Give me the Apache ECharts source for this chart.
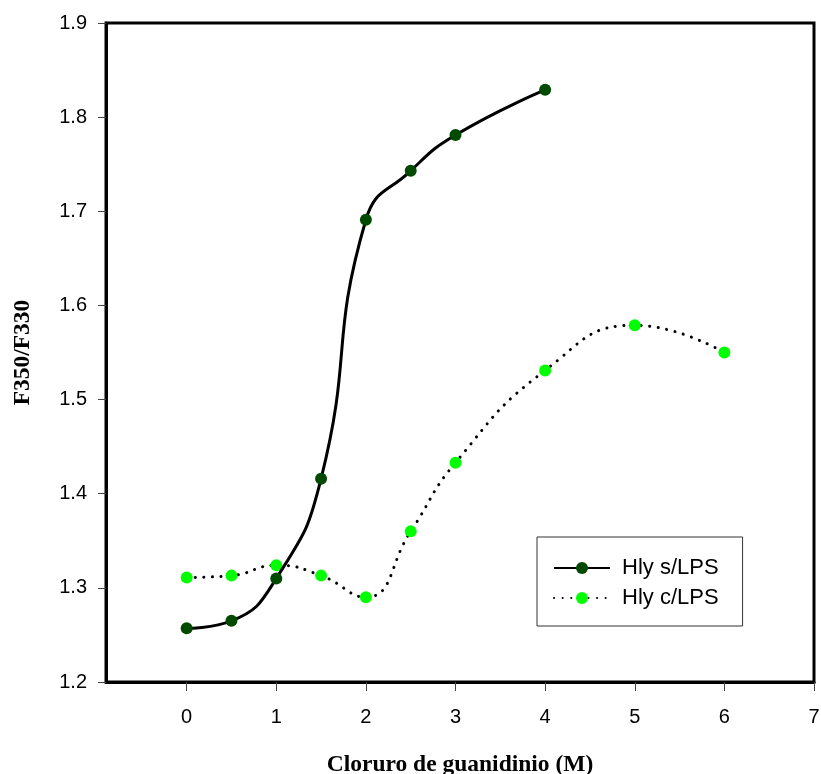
<!DOCTYPE html>
<html>
<head>
<meta charset="utf-8">
<script src="https://cdn.jsdelivr.net/npm/echarts@6/dist/echarts.min.js"></script>
<style>
  html, body { margin: 0; padding: 0; background: #fff; }
  #chart { width: 821px; height: 774px; }
</style>
</head>
<body>
<div id="chart"></div>
<script>
// Guanidinium chloride concentration (M) and F350/F330 ratio
const concSinLPS = [0, 0.5, 1, 1.5, 2, 2.5, 3, 4];
const ratioSinLPS = [1.257, 1.265, 1.310, 1.416, 1.691, 1.743, 1.781, 1.829];

const concConLPS = [0, 0.5, 1, 1.5, 2, 2.5, 3, 4, 5, 6];
const ratioConLPS = [1.311, 1.313, 1.324, 1.313, 1.290, 1.360, 1.433, 1.531, 1.579, 1.550];

const xTicks = [0, 1, 2, 3, 4, 5, 6, 7];
const seriesNames = ['Hly s/LPS', 'Hly c/LPS'];

const pairs = (xs, ys) => xs.map((x, i) => [x, ys[i]]);

const chart = echarts.init(document.getElementById('chart'), null, { renderer: 'canvas' });

chart.setOption({
  animation: false,
  backgroundColor: '#ffffff',
  grid: {
    left: 106, right: 7, top: 23, bottom: 92,
    outerBoundsMode: 'none',
    containLabel: false,
    show: true, borderColor: '#000', borderWidth: 3, backgroundColor: 'transparent'
  },
  xAxis: {
    type: 'value',
    min: -0.9, max: 7,
    name: 'Cloruro de guanidinio (M)',
    nameLocation: 'middle',
    nameGap: 83,
    nameTextStyle: { fontFamily: 'Liberation Serif', fontWeight: 'bold', fontSize: 23.5, color: '#000', verticalAlign: 'middle' },
    axisLine: { show: true, onZero: false, lineStyle: { color: '#000', width: 3 } },
    axisTick: { show: true, length: 9, customValues: xTicks, lineStyle: { color: '#444', width: 1 } },
    axisLabel: { customValues: xTicks, margin: 25, fontFamily: 'Liberation Sans', fontSize: 20, color: '#000' },
    splitLine: { show: false }
  },
  yAxis: {
    type: 'value',
    min: 1.2, max: 1.9, interval: 0.1,
    name: 'F350/F330',
    nameLocation: 'middle',
    nameGap: 83,
    nameRotate: 90,
    nameTextStyle: { fontFamily: 'Liberation Serif', fontWeight: 'bold', fontSize: 23.5, color: '#000', verticalAlign: 'middle' },
    axisLine: { show: true, onZero: false, lineStyle: { color: '#000', width: 3 } },
    axisTick: { show: true, length: 8, lineStyle: { color: '#444', width: 1 } },
    axisLabel: {
      margin: 19, fontFamily: 'Liberation Sans', fontSize: 20, color: '#000',
      formatter: v => v.toFixed(1)
    },
    splitLine: { show: false }
  },
  legend: {
    data: seriesNames,
    orient: 'vertical',
    left: 537, top: 537,
    padding: [20, 24, 17, 16],
    itemGap: 8,
    itemWidth: 56, itemHeight: 15,
    backgroundColor: '#fff',
    borderColor: '#333', borderWidth: 1,
    textStyle: { fontFamily: 'Liberation Sans', fontSize: 22, color: '#000', padding: [0, 0, 0, 7] }
  },
  series: [
    {
      name: seriesNames[0],
      type: 'line',
      data: pairs(concSinLPS, ratioSinLPS),
      smooth: 0.5,
      symbol: 'circle',
      symbolSize: 12,
      showAllSymbol: true,
      itemStyle: { color: '#004a00', borderWidth: 0 },
      lineStyle: { color: '#000', width: 3 },
      z: 3
    },
    {
      name: seriesNames[1],
      type: 'line',
      data: pairs(concConLPS, ratioConLPS),
      smooth: 0.5,
      symbol: 'circle',
      symbolSize: 12,
      showAllSymbol: true,
      itemStyle: { color: '#00ff00', borderWidth: 0 },
      lineStyle: { color: '#000', width: 3, type: [0.1, 8.5], cap: 'round' },
      z: 2
    }
  ]
});
</script>
</body>
</html>
